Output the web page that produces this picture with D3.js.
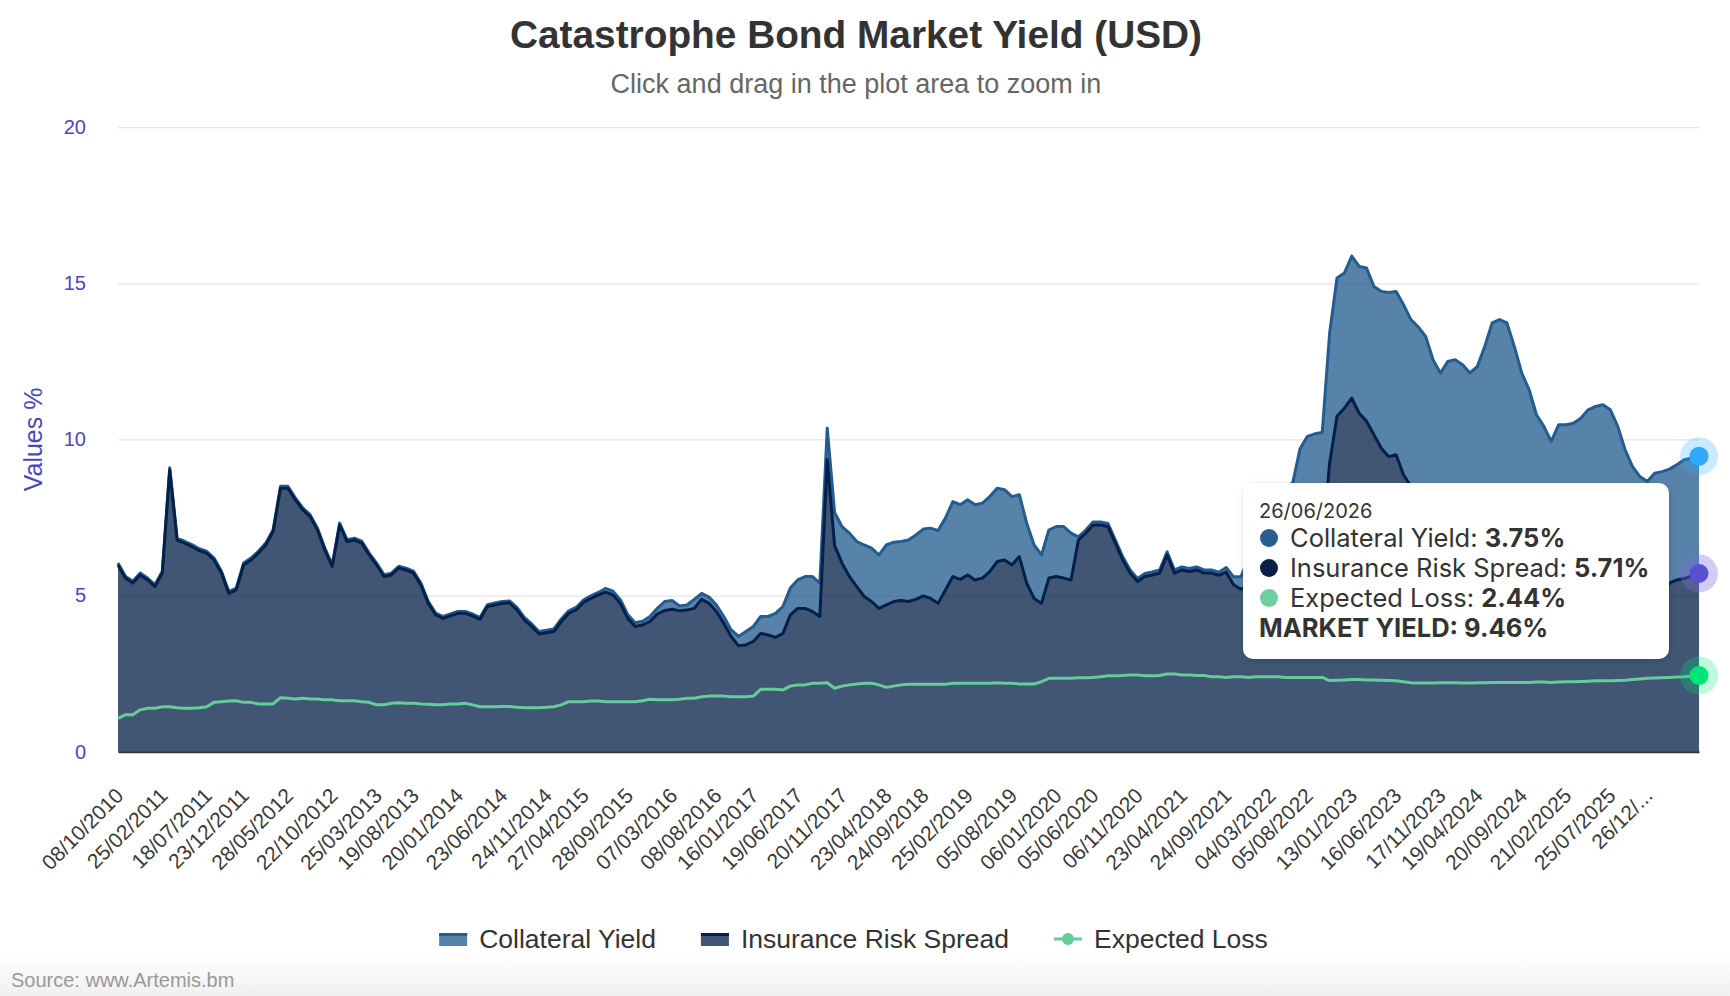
<!DOCTYPE html>
<html>
<head>
<meta charset="utf-8">
<script src="https://cdn.jsdelivr.net/npm/d3@7"></script>
<style>
  html, body { margin: 0; padding: 0; background: #fff; }
  svg { display: block; font-family: "Liberation Sans", Arial, Helvetica, sans-serif; }
</style>
</head>
<body>
<div id="chart"></div>
<script>
// x axis: one category per sampled point, labels every few points
const tickIndex = [0, 6, 12, 17, 23, 29, 35, 40, 46, 52, 58, 63, 69, 75, 81, 86, 92, 98, 104,
  109, 115, 121, 127, 132, 138, 144, 150, 156, 161, 167, 173, 179, 184, 190, 196, 202, 207];
const tickLabels = ['08/10/2010', '25/02/2011', '18/07/2011', '23/12/2011', '28/05/2012', '22/10/2012',
  '25/03/2013', '19/08/2013', '20/01/2014', '23/06/2014', '24/11/2014', '27/04/2015', '28/09/2015',
  '07/03/2016', '08/08/2016', '16/01/2017', '19/06/2017', '20/11/2017', '23/04/2018', '24/09/2018',
  '25/02/2019', '05/08/2019', '06/01/2020', '05/06/2020', '06/11/2020', '23/04/2021', '24/09/2021',
  '04/03/2022', '05/08/2022', '13/01/2023', '16/06/2023', '17/11/2023', '19/04/2024', '20/09/2024',
  '21/02/2025', '25/07/2025', '26/12/...'];
const lastDate = '26/06/2026';
const yTicks = [0, 5, 10, 15, 20];

// Insurance Risk Spread (bottom of the stack), %
const riskSpread = [
  5.98, 5.56, 5.40, 5.66, 5.50, 5.29, 5.72, 9.03, 6.78, 6.68,
  6.57, 6.44, 6.36, 6.14, 5.72, 5.07, 5.18, 5.98, 6.14, 6.36,
  6.62, 7.05, 8.44, 8.44, 8.07, 7.75, 7.53, 7.10, 6.46, 5.93,
  7.26, 6.73, 6.78, 6.68, 6.30, 5.98, 5.61, 5.66, 5.88, 5.82,
  5.72, 5.34, 4.75, 4.38, 4.27, 4.35, 4.43, 4.43, 4.35, 4.24,
  4.65, 4.70, 4.75, 4.77, 4.54, 4.22, 4.01, 3.77, 3.81, 3.85,
  4.17, 4.43, 4.54, 4.78, 4.91, 5.02, 5.11, 5.02, 4.75, 4.27,
  4.01, 4.06, 4.17, 4.41, 4.52, 4.56, 4.51, 4.54, 4.59, 4.88,
  4.75, 4.49, 4.11, 3.69, 3.39, 3.42, 3.53, 3.79, 3.74, 3.66,
  3.79, 4.38, 4.59, 4.59, 4.49, 4.33, 9.35, 6.60, 6.04, 5.61,
  5.29, 4.97, 4.81, 4.59, 4.70, 4.81, 4.84, 4.81, 4.88, 4.99,
  4.91, 4.75, 5.18, 5.61, 5.52, 5.66, 5.50, 5.56, 5.77, 6.09,
  6.14, 5.98, 6.25, 5.40, 4.91, 4.75, 5.56, 5.61, 5.56, 5.50,
  6.78, 7.00, 7.26, 7.26, 7.21, 6.68, 6.14, 5.72, 5.45, 5.61,
  5.66, 5.72, 6.30, 5.72, 5.82, 5.77, 5.82, 5.72, 5.72, 5.65,
  5.75, 5.35, 5.20, 5.30, 5.40, 5.50, 5.60, 5.60, 5.60, 5.70,
  6.20, 6.30, 6.40, 6.50, 9.24, 10.74, 11.00, 11.32, 10.84, 10.58,
  10.15, 9.72, 9.45, 9.51, 8.87, 8.50, 8.30, 8.00, 7.30, 6.90,
  7.20, 7.25, 7.10, 6.85, 7.00, 7.60, 8.35, 8.45, 8.40, 7.70,
  6.90, 6.50, 5.90, 5.70, 5.40, 6.00, 6.10, 6.20, 6.35, 6.60,
  6.70, 6.80, 6.65, 6.10, 5.40, 5.00, 4.80, 4.70, 5.00, 5.10,
  5.40, 5.50, 5.55, 5.62, 5.71
];

// Collateral Yield (stacked on top of the spread), %
const collateralYield = [
  0.06, 0.06, 0.06, 0.06, 0.06, 0.06, 0.06, 0.06, 0.06, 0.06,
  0.06, 0.06, 0.06, 0.06, 0.06, 0.06, 0.06, 0.06, 0.06, 0.06,
  0.06, 0.06, 0.06, 0.06, 0.06, 0.06, 0.06, 0.06, 0.06, 0.06,
  0.06, 0.06, 0.06, 0.06, 0.06, 0.06, 0.06, 0.06, 0.06, 0.06,
  0.06, 0.06, 0.06, 0.06, 0.06, 0.06, 0.06, 0.06, 0.06, 0.06,
  0.06, 0.06, 0.06, 0.06, 0.08, 0.08, 0.08, 0.08, 0.08, 0.08,
  0.08, 0.08, 0.08, 0.08, 0.08, 0.08, 0.12, 0.12, 0.12, 0.12,
  0.12, 0.12, 0.16, 0.18, 0.29, 0.28, 0.16, 0.16, 0.29, 0.19,
  0.20, 0.21, 0.22, 0.21, 0.30, 0.43, 0.48, 0.54, 0.59, 0.77,
  0.86, 0.86, 0.91, 1.02, 1.12, 1.07, 1.01, 1.05, 1.17, 1.39,
  1.44, 1.65, 1.71, 1.71, 1.92, 1.90, 1.89, 1.97, 2.06, 2.14,
  2.25, 2.33, 2.30, 2.40, 2.39, 2.41, 2.41, 2.40, 2.40, 2.35,
  2.25, 2.19, 1.98, 1.92, 1.71, 1.55, 1.54, 1.60, 1.65, 1.50,
  0.10, 0.10, 0.10, 0.10, 0.10, 0.10, 0.10, 0.10, 0.10, 0.10,
  0.10, 0.10, 0.10, 0.10, 0.10, 0.10, 0.10, 0.10, 0.10, 0.10,
  0.15, 0.25, 0.40, 0.90, 1.30, 1.80, 2.30, 2.70, 2.90, 2.90,
  3.50, 3.80, 3.78, 3.72, 4.16, 4.43, 4.33, 4.55, 4.70, 4.91,
  4.75, 5.02, 5.26, 5.23, 5.45, 5.34, 5.30, 5.30, 5.25, 5.23,
  5.30, 5.30, 5.29, 5.28, 5.34, 5.38, 5.38, 5.39, 5.33, 5.28,
  5.23, 5.10, 4.89, 4.72, 4.54, 4.47, 4.37, 4.32, 4.33, 4.35,
  4.36, 4.31, 4.30, 4.32, 4.27, 4.13, 4.01, 3.95, 3.92, 3.87,
  3.65, 3.69, 3.80, 3.78, 3.75
];

// Expected Loss (own line, not stacked), %
const expectedLoss = [
  1.07, 1.18, 1.18, 1.34, 1.39, 1.39, 1.44, 1.44, 1.41, 1.39,
  1.39, 1.41, 1.44, 1.58, 1.60, 1.62, 1.63, 1.58, 1.58, 1.53,
  1.53, 1.53, 1.73, 1.71, 1.69, 1.71, 1.69, 1.69, 1.66, 1.66,
  1.63, 1.63, 1.63, 1.60, 1.58, 1.50, 1.50, 1.55, 1.57, 1.55,
  1.55, 1.53, 1.52, 1.50, 1.50, 1.53, 1.53, 1.55, 1.50, 1.44,
  1.44, 1.44, 1.45, 1.45, 1.42, 1.41, 1.41, 1.41, 1.42, 1.44,
  1.50, 1.60, 1.60, 1.60, 1.62, 1.62, 1.60, 1.60, 1.60, 1.60,
  1.60, 1.63, 1.68, 1.66, 1.66, 1.66, 1.68, 1.71, 1.71, 1.76,
  1.78, 1.78, 1.78, 1.76, 1.76, 1.76, 1.78, 2.00, 2.00, 2.00,
  1.98, 2.10, 2.14, 2.14, 2.19, 2.19, 2.21, 2.03, 2.10, 2.14,
  2.17, 2.19, 2.19, 2.14, 2.06, 2.10, 2.14, 2.16, 2.16, 2.16,
  2.16, 2.16, 2.16, 2.19, 2.19, 2.19, 2.19, 2.19, 2.19, 2.21,
  2.19, 2.19, 2.17, 2.17, 2.17, 2.24, 2.35, 2.35, 2.35, 2.35,
  2.37, 2.37, 2.38, 2.40, 2.43, 2.43, 2.44, 2.46, 2.46, 2.43,
  2.43, 2.44, 2.49, 2.49, 2.46, 2.46, 2.44, 2.44, 2.40, 2.40,
  2.38, 2.40, 2.40, 2.38, 2.40, 2.40, 2.40, 2.40, 2.38, 2.38,
  2.38, 2.38, 2.38, 2.38, 2.28, 2.29, 2.30, 2.31, 2.31, 2.30,
  2.30, 2.29, 2.28, 2.27, 2.24, 2.21, 2.20, 2.20, 2.20, 2.21,
  2.21, 2.21, 2.20, 2.20, 2.21, 2.21, 2.22, 2.22, 2.22, 2.22,
  2.22, 2.22, 2.23, 2.23, 2.22, 2.23, 2.24, 2.24, 2.25, 2.26,
  2.27, 2.27, 2.27, 2.28, 2.29, 2.31, 2.33, 2.35, 2.36, 2.37,
  2.38, 2.39, 2.40, 2.42, 2.44
];

document.addEventListener('DOMContentLoaded', function() {
    const W = 1730, H = 996;
    const margin = { top: 127.2, right: 31, bottom: 244.3, left: 118 },
        width = W - margin.left - margin.right,
        height = H - margin.top - margin.bottom;

    const colCollateral = '#1f5a8d', colSpread = '#021d45', colLoss = '#66cc99';
    const axisBlue = '#4a46c9';

    const svg = d3.select('#chart').append('svg')
        .attr('width', W).attr('height', H);

    const defs = svg.append('defs');
    const grad = defs.append('linearGradient').attr('id', 'bottomFade')
        .attr('x1', 0).attr('y1', 0).attr('x2', 0).attr('y2', 1);
    grad.append('stop').attr('offset', '0%').attr('stop-color', '#ffffff');
    grad.append('stop').attr('offset', '100%').attr('stop-color', '#f0f0f0');
    const shadow = defs.append('filter').attr('id', 'tipShadow')
        .attr('x', '-10%').attr('y', '-10%').attr('width', '120%').attr('height', '130%');
    shadow.append('feDropShadow').attr('dx', 1).attr('dy', 2).attr('stdDeviation', 3)
        .attr('flood-color', '#000').attr('flood-opacity', 0.18);

    // faint grey fade at the bottom of the page
    svg.append('rect').attr('x', 0).attr('y', 955).attr('width', W).attr('height', H - 955)
        .attr('fill', 'url(#bottomFade)');

    // Title and subtitle
    svg.append('text').attr('x', 856).attr('y', 34).attr('dy', '0.35em')
        .attr('text-anchor', 'middle').style('font-size', '38.8px').style('font-weight', 'bold')
        .style('fill', '#333').text('Catastrophe Bond Market Yield (USD)');
    svg.append('text').attr('x', 856).attr('y', 84).attr('dy', '0.35em')
        .attr('text-anchor', 'middle').style('font-size', '27px')
        .style('fill', '#666').text('Click and drag in the plot area to zoom in');

    const g = svg.append('g').attr('transform', `translate(${margin.left},${margin.top})`);

    const x = d3.scaleLinear().domain([0, riskSpread.length - 1]).range([0, width]);
    const y = d3.scaleLinear().domain([0, 20]).range([height, 0]);

    // Y axis with grid lines
    const yAxis = g.append('g')
        .call(d3.axisLeft(y).tickValues(yTicks).tickSize(-width).tickPadding(32));
    yAxis.select('.domain').remove();
    yAxis.selectAll('line').attr('stroke', '#e6e6e6').attr('stroke-width', 1.2);
    yAxis.selectAll('text').style('font-size', '20px').style('fill', axisBlue)
        .style('font-family', '"Liberation Sans", Arial, sans-serif');

    svg.append('text').attr('transform', `translate(33,${margin.top + height / 2}) rotate(-90)`)
        .attr('dy', '0.35em').attr('text-anchor', 'middle')
        .style('font-size', '25px').style('fill', axisBlue).text('Values %');

    // Stack: spread at the bottom, collateral yield on top
    const rows = riskSpread.map((v, i) => ({ spread: v, collateral: collateralYield[i] }));
    const stacked = d3.stack().keys(['spread', 'collateral'])(rows);

    const area = d3.area().x((d, i) => x(i)).y0(d => y(d[0])).y1(d => y(d[1]));
    const topLine = d3.line().x((d, i) => x(i)).y(d => y(d[1]));

    g.append('path').datum(stacked[1]).attr('d', area)
        .attr('fill', colCollateral).attr('fill-opacity', 0.75);
    g.append('path').datum(stacked[0]).attr('d', area)
        .attr('fill', colSpread).attr('fill-opacity', 0.75);
    g.append('path').datum(stacked[1]).attr('d', topLine)
        .attr('fill', 'none').attr('stroke', '#235c8f').attr('stroke-width', 3)
        .attr('stroke-linejoin', 'round');
    g.append('path').datum(stacked[0]).attr('d', topLine)
        .attr('fill', 'none').attr('stroke', '#04204a').attr('stroke-width', 3)
        .attr('stroke-linejoin', 'round');

    const lossLine = d3.line().x((d, i) => x(i)).y(d => y(d));
    g.append('path').datum(expectedLoss).attr('d', lossLine)
        .attr('fill', 'none').attr('stroke', colLoss).attr('stroke-width', 3)
        .attr('stroke-linejoin', 'round');

    // X axis with rotated category labels
    const xAxis = g.append('g').attr('transform', `translate(0,${height})`)
        .call(d3.axisBottom(x).tickValues(tickIndex).tickFormat((d, i) => tickLabels[i])
            .tickSize(0).tickSizeOuter(0));
    xAxis.select('.domain').attr('stroke', '#333').attr('stroke-width', 2);
    xAxis.selectAll('text')
        .attr('x', 0).attr('y', 0).attr('dy', '0.35em')
        .attr('text-anchor', 'end')
        .attr('transform', 'translate(1,40) rotate(-45)')
        .style('font-size', '21px').style('fill', '#3a3a3a')
        .style('font-family', '"Liberation Sans", Arial, sans-serif');

    // Hover markers on the last point
    const last = riskSpread.length - 1;
    const total = riskSpread[last] + collateralYield[last];
    const markers = [
        { v: total, fill: '#2ea9ff', halo: 'rgba(46,169,255,0.25)' },
        { v: riskSpread[last], fill: '#5a4fcf', halo: 'rgba(120,110,220,0.35)' },
        { v: expectedLoss[last], fill: '#00e676', halo: 'rgba(0,230,118,0.25)' }
    ];
    markers.forEach(m => {
        g.append('circle').attr('cx', x(last)).attr('cy', y(m.v)).attr('r', 19).attr('fill', m.halo);
        g.append('circle').attr('cx', x(last)).attr('cy', y(m.v)).attr('r', 9.5).attr('fill', m.fill);
    });

    // Tooltip
    const tip = svg.append('g').style('font-family', 'Inter, "Noto Sans", sans-serif');
    tip.append('rect').attr('x', 1243).attr('y', 483).attr('width', 426).attr('height', 176)
        .attr('rx', 10).attr('fill', '#fff').attr('filter', 'url(#tipShadow)');
    tip.append('text').attr('x', 1259).attr('y', 511).attr('dy', '0.35em')
        .style('font-size', '20px').style('fill', '#333').text(lastDate);
    const tipRows = [
        { name: 'Collateral Yield', v: collateralYield[last], c: '#2a5d90' },
        { name: 'Insurance Risk Spread', v: riskSpread[last], c: '#0a1f45' },
        { name: 'Expected Loss', v: expectedLoss[last], c: '#6dcf9e' }
    ];
    tipRows.forEach((r, i) => {
        const ry = 538 + i * 30;
        tip.append('circle').attr('cx', 1269).attr('cy', ry).attr('r', 9).attr('fill', r.c);
        const t = tip.append('text').attr('x', 1290).attr('y', ry).attr('dy', '0.35em')
            .style('font-size', '25.5px').style('fill', '#333');
        t.append('tspan').text(r.name + ': ');
        t.append('tspan').style('font-weight', 'bold').text(r.v.toFixed(2) + '%');
    });
    tip.append('text').attr('x', 1259).attr('y', 628).attr('dy', '0.35em')
        .style('font-size', '25.5px').style('font-weight', 'bold').style('fill', '#333')
        .text('MARKET YIELD: ' + total.toFixed(2) + '%');

    // Legend
    const legendItems = [
        { name: 'Collateral Yield', type: 'area', fill: colCollateral, stroke: '#235c8f' },
        { name: 'Insurance Risk Spread', type: 'area', fill: colSpread, stroke: '#04204a' },
        { name: 'Expected Loss', type: 'line', stroke: colLoss }
    ];
    const legend = svg.append('g');
    const ly = 939, symW = 28, symPad = 12, itemGap = 45;
    let lx = 0;
    legendItems.forEach(item => {
        const ig = legend.append('g').attr('transform', `translate(${lx},0)`);
        if (item.type === 'area') {
            ig.append('rect').attr('x', 0).attr('y', ly - 6).attr('width', symW).attr('height', 13)
                .attr('fill', item.fill).attr('fill-opacity', 0.75);
            ig.append('line').attr('x1', 0).attr('x2', symW).attr('y1', ly - 4.5).attr('y2', ly - 4.5)
                .attr('stroke', item.stroke).attr('stroke-width', 3);
        } else {
            ig.append('line').attr('x1', 0).attr('x2', symW).attr('y1', ly).attr('y2', ly)
                .attr('stroke', item.stroke).attr('stroke-width', 3);
            ig.append('circle').attr('cx', symW / 2).attr('cy', ly).attr('r', 6).attr('fill', item.stroke);
        }
        const t = ig.append('text').attr('x', symW + symPad).attr('y', ly).attr('dy', '0.35em')
            .style('font-size', '26.5px').style('fill', '#333').text(item.name);
        lx += symW + symPad + t.node().getComputedTextLength() + itemGap;
    });
    const legendWidth = lx - itemGap;
    legend.attr('transform', `translate(${853.5 - legendWidth / 2},0)`);

    // Credit
    svg.append('text').attr('x', 11).attr('y', 980).attr('dy', '0.35em')
        .style('font-size', '20px').style('fill', '#999').text('Source: www.Artemis.bm');
});
</script>
</body>
</html>
